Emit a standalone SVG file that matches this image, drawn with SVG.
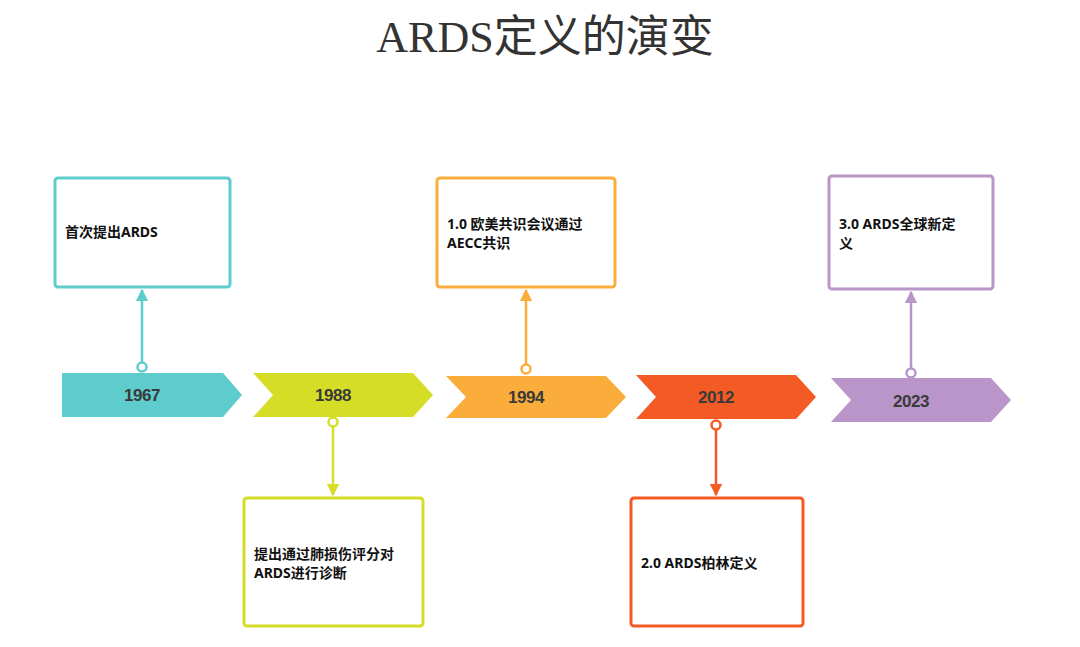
<svg xmlns="http://www.w3.org/2000/svg" width="1080" height="647" viewBox="0 0 1080 647">
<style>
.t{font-family:"Liberation Serif","Noto Sans CJK SC",serif;font-size:44px;fill:#333}
.y{font-family:"Liberation Sans",sans-serif;font-weight:bold;font-size:17px;fill:#3a3a3a;text-anchor:middle;letter-spacing:-0.5px}
.b{font-family:"Noto Sans","Noto Sans CJK SC",sans-serif;font-weight:bold;font-size:14px;fill:#111}
.box{fill:#fff;stroke-width:3}
.c{fill:#fff;stroke-width:2.5}
</style>
<defs>
<marker id="a1" viewBox="0 0 10 10" refX="9" refY="5" markerWidth="5" markerHeight="5" orient="auto"><path d="M0,0L10,5L0,10z" fill="#5ecbcc"/></marker>
<marker id="a2" viewBox="0 0 10 10" refX="9" refY="5" markerWidth="5" markerHeight="5" orient="auto"><path d="M0,0L10,5L0,10z" fill="#d5dd26"/></marker>
<marker id="a3" viewBox="0 0 10 10" refX="9" refY="5" markerWidth="5" markerHeight="5" orient="auto"><path d="M0,0L10,5L0,10z" fill="#fbad3b"/></marker>
<marker id="a4" viewBox="0 0 10 10" refX="9" refY="5" markerWidth="5" markerHeight="5" orient="auto"><path d="M0,0L10,5L0,10z" fill="#f45a23"/></marker>
<marker id="a5" viewBox="0 0 10 10" refX="9" refY="5" markerWidth="5" markerHeight="5" orient="auto"><path d="M0,0L10,5L0,10z" fill="#b995c9"/></marker>
</defs>
<text class="t" x="545" y="52" text-anchor="middle">ARDS定义的演变</text>
<g id="connectors" stroke-width="2.5" fill="none">
<line x1="142" y1="362" x2="142" y2="290" stroke="#5ecbcc" marker-end="url(#a1)"/>
<line x1="333" y1="427" x2="333" y2="495" stroke="#d5dd26" marker-end="url(#a2)"/>
<line x1="526" y1="364" x2="526" y2="290" stroke="#fbad3b" marker-end="url(#a3)"/>
<line x1="716" y1="430" x2="716" y2="495" stroke="#f45a23" marker-end="url(#a4)"/>
<line x1="911" y1="368" x2="911" y2="292" stroke="#b995c9" marker-end="url(#a5)"/>
<circle class="c" cx="142" cy="367" r="4.5" stroke="#5ecbcc"/>
<circle class="c" cx="333" cy="422" r="4.5" stroke="#d5dd26"/>
<circle class="c" cx="526" cy="369" r="4.5" stroke="#fbad3b"/>
<circle class="c" cx="716" cy="425" r="4.5" stroke="#f45a23"/>
<circle class="c" cx="911" cy="373" r="4.5" stroke="#b995c9"/>
</g>
<g id="y1967"><path d="M62,373H223L242,395L223,417H62Z" fill="#5ecbcc"/><text class="y" x="142" y="401">1967</text></g>
<g id="y1988"><path d="M253,373H413L433,395L413,417H253L273,395Z" fill="#d5dd26"/><text class="y" x="333" y="401">1988</text></g>
<g id="y1994"><path d="M446,376H606L626,397L606,418H446L466,397Z" fill="#fbad3b"/><text class="y" x="526" y="403">1994</text></g>
<g id="y2012"><path d="M636,375H796L816,397L796,419H636L656,397Z" fill="#f45a23"/><text class="y" x="716" y="403">2012</text></g>
<g id="y2023"><path d="M831,378H991L1011,400L991,422H831L851,400Z" fill="#b995c9"/><text class="y" x="911" y="407">2023</text></g>
<g id="n1"><rect class="box" x="55" y="178" width="175" height="109" rx="3" stroke="#5ecbcc"/><text class="b" x="65" y="237">首次提出ARDS</text></g>
<g id="n2"><rect class="box" x="244" y="498" width="179" height="128" rx="3" stroke="#d5dd26"/><text class="b" x="254" y="559">提出通过肺损伤评分对</text><text class="b" x="254" y="578">ARDS进行诊断</text></g>
<g id="n3"><rect class="box" x="437" y="178" width="178" height="109" rx="3" stroke="#fbad3b"/><text class="b" x="447" y="229">1.0 欧美共识会议通过</text><text class="b" x="447" y="248">AECC共识</text></g>
<g id="n4"><rect class="box" x="631" y="498" width="172" height="128" rx="3" stroke="#f45a23"/><text class="b" x="641" y="568">2.0 ARDS柏林定义</text></g>
<g id="n5"><rect class="box" x="829" y="176" width="164" height="113" rx="3" stroke="#b995c9"/><text class="b" x="839" y="229">3.0 ARDS全球新定</text><text class="b" x="839" y="248">义</text></g>
</svg>
